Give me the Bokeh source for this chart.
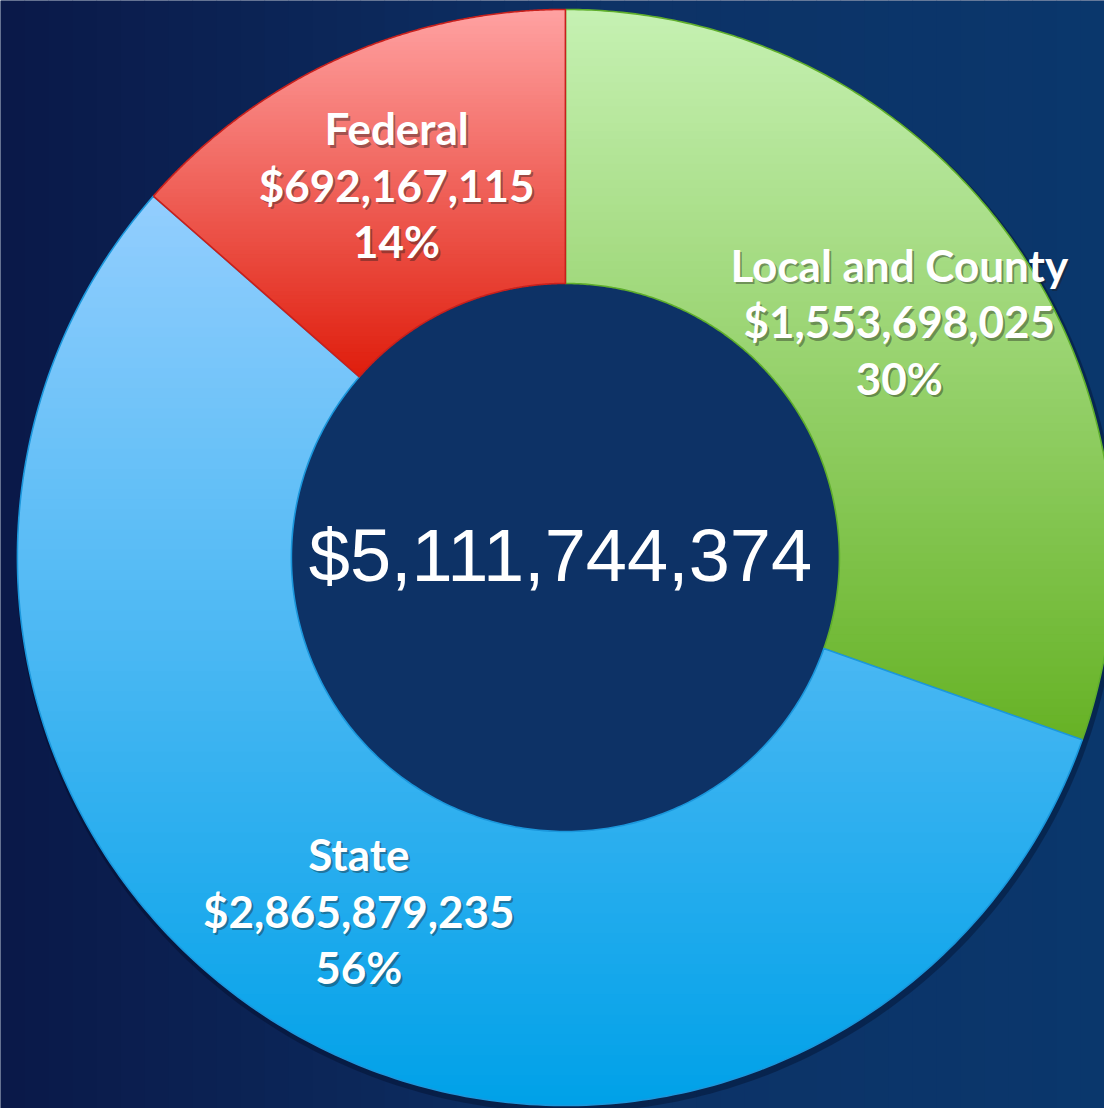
import numpy as np
from bokeh.plotting import figure
from bokeh.models import Range1d
from bokeh.core.properties import value
from bokeh.embed import file_html
from bokeh.resources import INLINE

# ---- data (clockwise from 12 o'clock) ----
categories = ["Local and County", "State", "Federal"]
amounts = [1553698025, 2865879235, 692167115]
total_label = 5111744374
top_colors = ["#c6f1b3", "#93cefe", "#ffa2a2"]
bottom_colors = ["#66b225", "#00a1e8", "#df1d0c"]
edge_colors = ["#5fae2c", "#1b97dc", "#c8201c"]

W, H = 1104, 1108
CX, CY = 569.0, 561.0
R_OUT, R_IN = 552.0, 276.0

p = figure(width=W, height=H, output_backend="svg", toolbar_location=None,
           x_range=Range1d(0, 1112), y_range=Range1d(1116, 0),
           min_border=0, border_fill_color="#0b2456", outline_line_color=None)
p.axis.visible = False
p.grid.visible = False
p.background_fill_color = "#0b2456"

def hex2rgb(h):
    h = h.lstrip("#")
    return np.array([int(h[i:i + 2], 16) for i in (0, 2, 4)], dtype=float)

def rgb2hex(c):
    c = np.clip(np.round(c), 0, 255).astype(int)
    return "#%02x%02x%02x" % tuple(c)

# ---- background: soft horizontal gradient in vertical strips ----
bg_left, bg_mid, bg_right = hex2rgb("#0a1848"), hex2rgb("#0d3266"), hex2rgb("#0a376c")
nstrip = 46
edges = np.linspace(0, 1112, nstrip + 1)
bl, br, bc = [], [], []
for i in range(nstrip):
    t = (i + 0.5) / nstrip
    if t < 0.55:
        c = bg_left + (bg_mid - bg_left) * (t / 0.55)
    else:
        c = bg_mid + (bg_right - bg_mid) * ((t - 0.55) / 0.45)
    bl.append(edges[i]); br.append(edges[i + 1] + 0.6); bc.append(rgb2hex(c))
p.quad(left=bl, right=br, top=[0] * nstrip, bottom=[1116] * nstrip,
       fill_color=bc, line_color=None)

# ---- slice geometry ----
fractions = np.array(amounts, dtype=float) / sum(amounts)
start_angles = np.pi / 2 - np.concatenate([[0], np.cumsum(fractions)[:-1]]) * 2 * np.pi
end_angles = start_angles - fractions * 2 * np.pi

def slice_poly(a0, a1, n=240):
    t = np.linspace(a0, a1, n)
    xo = CX + R_OUT * np.cos(t); yo = CY - R_OUT * np.sin(t)
    xi = CX + R_IN * np.cos(t[::-1]); yi = CY - R_IN * np.sin(t[::-1])
    return list(zip(np.concatenate([xo, xi]), np.concatenate([yo, yi])))

def clip(poly, yv, keep_above):
    out = []
    n = len(poly)
    for i in range(n):
        cur = poly[i]; prev = poly[i - 1]
        cin = (cur[1] >= yv) if keep_above else (cur[1] <= yv)
        pin = (prev[1] >= yv) if keep_above else (prev[1] <= yv)
        if cin:
            if not pin:
                t = (yv - prev[1]) / (cur[1] - prev[1])
                out.append((prev[0] + t * (cur[0] - prev[0]), yv))
            out.append(cur)
        elif pin:
            t = (yv - prev[1]) / (cur[1] - prev[1])
            out.append((prev[0] + t * (cur[0] - prev[0]), yv))
    return out

# soft shadow under the ring
sh = np.linspace(0, 2 * np.pi, 400)
p.patch(CX + 2 + (R_OUT + 3) * np.cos(sh), CY + 4 + (R_OUT + 3) * np.sin(sh),
        fill_color="#000a20", fill_alpha=0.35, line_color=None)
# hole colour
p.patch(CX + R_IN * np.cos(sh), CY + R_IN * np.sin(sh),
        fill_color="#0d3266", line_color=None)

nb = 90
for k in range(len(categories)):
    poly = slice_poly(start_angles[k], end_angles[k])
    ys = np.array([q[1] for q in poly])
    ymin, ymax = ys.min(), ys.max()
    yb = np.linspace(ymin, ymax, nb + 1)
    ct, cb = hex2rgb(top_colors[k]), hex2rgb(bottom_colors[k])
    xs_l, ys_l, cols = [], [], []
    for j in range(nb):
        piece = clip(poly, yb[j], True)
        if len(piece) < 3:
            continue
        piece = clip(piece, yb[j + 1] + 0.8, False)
        if len(piece) < 3:
            continue
        t = (j + 0.5) / nb
        xs_l.append([q[0] for q in piece]); ys_l.append([q[1] for q in piece])
        cols.append(rgb2hex(ct + (cb - ct) * t))
    p.patches(xs_l, ys_l, fill_color=cols, line_color=None)
    px = [q[0] for q in poly] + [poly[0][0]]
    py = [q[1] for q in poly] + [poly[0][1]]
    p.line(px, py, line_color=edge_colors[k], line_width=1.6, line_join="round")

# ---- labels ----
mid = (start_angles + end_angles) / 2
R_LAB = 412.0
lx = CX + R_LAB * np.cos(mid)
ly = CY - R_LAB * np.sin(mid)
pcts = [f"{round(f * 100):.0f}%" for f in fractions]
money = [f"${a:,.0f}" for a in amounts]
LS = 57
tx, ty, tt = [], [], []
for k in range(len(categories)):
    for line_i, s in enumerate([categories[k], money[k], pcts[k]]):
        tx.append(lx[k]); ty.append(ly[k] + (line_i - 1) * LS); tt.append(s)

p.text([x + 2 for x in tx], [y + 2.5 for y in ty], text=tt, text_font=value("Lato"),
       text_font_style="bold", text_font_size="44px", text_color="#1a1a1a",
       text_alpha=0.4, text_align="center", text_baseline="middle")
p.text(tx, ty, text=tt, text_font=value("Lato"), text_font_style="bold",
       text_font_size="44px", text_color="white", text_align="center",
       text_baseline="middle")

p.text([CX - 5], [CY - 2], text=[f"${total_label:,.0f}"],
       text_font=value("Liberation Sans"), text_font_size="74px",
       text_color="white", text_align="center", text_baseline="middle")

open("out.html", "w").write(file_html(p, INLINE))
